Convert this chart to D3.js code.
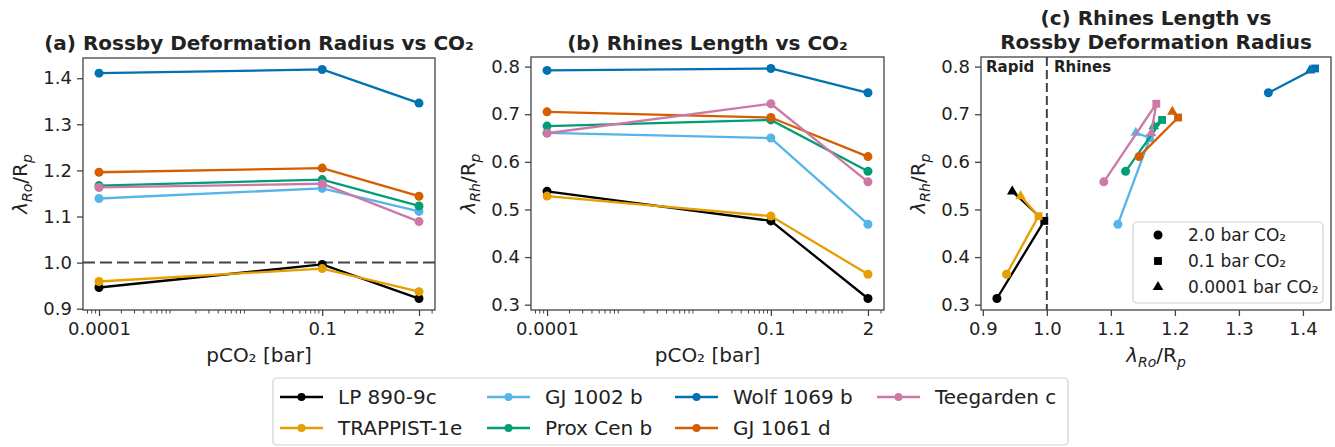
<!DOCTYPE html>
<html>
<head>
<meta charset="utf-8">
<script src="https://cdn.jsdelivr.net/npm/d3@7"></script>
<style>
  body { margin: 0; background: #fff; }
  text { font-family: "DejaVu Sans", sans-serif; fill: #222; }
</style>
</head>
<body>
<script>
// planets in plot order
var planets = ["LP 890-9c", "TRAPPIST-1e", "GJ 1002 b", "Prox Cen b", "Wolf 1069 b", "GJ 1061 d", "Teegarden c"];
var colors = ["#000000", "#E69F00", "#56B4E9", "#009E73", "#0072B2", "#D55E00", "#CC79A7"];
var pco2 = [0.0001, 0.1, 2];
var pco2Labels = ["0.0001", "0.1", "2"];

// lambda_Ro / R_p at 0.0001, 0.1, 2 bar
var rossby = [
  [0.946, 0.996, 0.922],
  [0.959, 0.987, 0.937],
  [1.139, 1.161, 1.111],
  [1.167, 1.180, 1.123],
  [1.411, 1.419, 1.346],
  [1.196, 1.205, 1.144],
  [1.163, 1.171, 1.089]
];
// lambda_Rh / R_p at 0.0001, 0.1, 2 bar
var rhines = [
  [0.538, 0.476, 0.313],
  [0.528, 0.486, 0.364],
  [0.661, 0.650, 0.469],
  [0.675, 0.688, 0.580],
  [0.792, 0.796, 0.745],
  [0.705, 0.693, 0.611],
  [0.660, 0.722, 0.558]
];
var rossbyTicks = [0.9, 1.0, 1.1, 1.2, 1.3, 1.4];
var rhinesTicks = [0.3, 0.4, 0.5, 0.6, 0.7, 0.8];
var markerLegend = ["2.0 bar CO\u2082", "0.1 bar CO\u2082", "0.0001 bar CO\u2082"];

var svg = d3.select("body").append("svg")
  .attr("width", 1335)
  .attr("height", 447);

var boxA = {x0: 83, x1: 435, y0: 58, y1: 310};
var boxB = {x0: 531, x1: 884, y0: 57, y1: 310};
var boxC = {x0: 981, x1: 1331, y0: 57, y1: 310};

// matplotlib-like 5% margins
function padded(vals) {
  var e = d3.extent(vals);
  var m = (e[1] - e[0]) * 0.05;
  return [e[0] - m, e[1] + m];
}
function paddedLog(vals) {
  var e = d3.extent(vals).map(Math.log10);
  var m = (e[1] - e[0]) * 0.05;
  return [Math.pow(10, e[0] - m), Math.pow(10, e[1] + m)];
}

var allRo = d3.merge(rossby), allRh = d3.merge(rhines);

var markerTypes = [d3.symbolTriangle, d3.symbolSquare, d3.symbolCircle]; // by pco2 index
var markerSizes = [48, 62, 64];

function frame(g, box) {
  g.append("rect")
    .attr("x", box.x0).attr("y", box.y0)
    .attr("width", box.x1 - box.x0).attr("height", box.y1 - box.y0)
    .attr("fill", "none").attr("stroke", "#444").attr("stroke-width", 1.3);
}

function styleAxis(ax) {
  ax.select(".domain").remove();
  ax.selectAll(".tick line").attr("stroke", "#444").attr("stroke-width", 1.3);
  ax.selectAll(".tick text").style("font-size", "18px").attr("fill", "#222");
}

function yLabel(g, x, y, sub) {
  var t = g.append("text")
    .attr("transform", "translate(" + x + "," + y + ") rotate(-90)")
    .attr("text-anchor", "middle")
    .style("font-size", "20px");
  t.append("tspan").style("font-style", "italic").text("\u03bb");
  t.append("tspan").attr("dy", 5).style("font-size", "14px").style("font-style", "italic").text(sub);
  t.append("tspan").attr("dy", -5).text("/R");
  t.append("tspan").attr("dy", 5).style("font-size", "14px").style("font-style", "italic").text("p");
}

function xLabelLambda(g, x, y) {
  var t = g.append("text")
    .attr("x", x).attr("y", y)
    .attr("text-anchor", "middle")
    .style("font-size", "20px");
  t.append("tspan").style("font-style", "italic").text("\u03bb");
  t.append("tspan").attr("dy", 5).style("font-size", "14px").style("font-style", "italic").text("Ro");
  t.append("tspan").attr("dy", -5).text("/R");
  t.append("tspan").attr("dy", 5).style("font-size", "14px").style("font-style", "italic").text("p");
}

function title(g, box, lines, y) {
  lines.forEach(function(s, i) {
    g.append("text")
      .attr("x", (box.x0 + box.x1) / 2)
      .attr("y", y + i * 24)
      .attr("text-anchor", "middle")
      .style("font-size", "20px")
      .style("font-weight", "bold")
      .text(s);
  });
}

// panels a and b share the same layout: value vs pCO2 on log axis
function co2Panel(box, values, yTicks, titleText, sub) {
  var g = svg.append("g");
  var x = d3.scaleLog().domain(paddedLog(pco2)).range([box.x0, box.x1]);
  var y = d3.scaleLinear().domain(padded(d3.merge(values))).range([box.y1, box.y0]);

  // minor log ticks
  var minors = [];
  for (var k = -5; k <= 1; k++) {
    for (var m = 2; m <= 9; m++) {
      var v = m * Math.pow(10, k);
      if (v >= x.domain()[0] && v <= x.domain()[1] && pco2.indexOf(+v.toPrecision(6)) < 0) minors.push(v);
    }
  }
  g.selectAll(".minor").data(minors).enter().append("line")
    .attr("x1", function(d) { return x(d); })
    .attr("x2", function(d) { return x(d); })
    .attr("y1", box.y1).attr("y2", box.y1 + 3.5)
    .attr("stroke", "#444").attr("stroke-width", 1);

  var xa = g.append("g").attr("transform", "translate(0," + box.y1 + ")")
    .call(d3.axisBottom(x).tickValues(pco2).tickSize(6).tickPadding(6)
      .tickFormat(function(d, i) { return pco2Labels[i]; }));
  styleAxis(xa);
  var ya = g.append("g").attr("transform", "translate(" + box.x0 + ",0)")
    .call(d3.axisLeft(y).tickValues(yTicks).tickSize(6).tickPadding(5).tickFormat(d3.format(".1f")));
  styleAxis(ya);

  var line = d3.line()
    .x(function(d, i) { return x(pco2[i]); })
    .y(function(d) { return y(d); });

  var series = g.selectAll(".series").data(values).enter().append("g");
  series.append("path")
    .attr("d", line)
    .attr("fill", "none")
    .attr("stroke", function(d, i) { return colors[i]; })
    .attr("stroke-width", 2.3);
  series.each(function(vals, si) {
    d3.select(this).selectAll("circle").data(vals).enter().append("circle")
      .attr("cx", function(d, i) { return x(pco2[i]); })
      .attr("cy", function(d) { return y(d); })
      .attr("r", 4.5)
      .attr("fill", colors[si]);
  });

  frame(g, box);
  title(g, box, [titleText], 50);
  g.append("text")
    .attr("x", (box.x0 + box.x1) / 2).attr("y", 362)
    .attr("text-anchor", "middle").style("font-size", "20px")
    .text("pCO\u2082 [bar]");
  yLabel(g, box.x0 - 56, (box.y0 + box.y1) / 2, sub);
  return {g: g, x: x, y: y};
}

var pa = co2Panel(boxA, rossby, rossbyTicks, "(a) Rossby Deformation Radius vs CO\u2082", "Ro");
// dashed reference at 1.0
pa.g.insert("line", "g")
  .attr("x1", boxA.x0).attr("x2", boxA.x1)
  .attr("y1", pa.y(1.0)).attr("y2", pa.y(1.0))
  .attr("stroke", "#444").attr("stroke-width", 2).attr("stroke-dasharray", "12,5");

co2Panel(boxB, rhines, rhinesTicks, "(b) Rhines Length vs CO\u2082", "Rh");

// panel c: rhines vs rossby
(function() {
  var box = boxC;
  var g = svg.append("g");
  var x = d3.scaleLinear().domain(padded(allRo)).range([box.x0, box.x1]);
  var y = d3.scaleLinear().domain(padded(allRh)).range([box.y1, box.y0]);

  var xa = g.append("g").attr("transform", "translate(0," + box.y1 + ")")
    .call(d3.axisBottom(x).tickValues(rossbyTicks).tickSize(6).tickPadding(6).tickFormat(d3.format(".1f")));
  styleAxis(xa);
  var ya = g.append("g").attr("transform", "translate(" + box.x0 + ",0)")
    .call(d3.axisLeft(y).tickValues(rhinesTicks).tickSize(6).tickPadding(5).tickFormat(d3.format(".1f")));
  styleAxis(ya);

  g.append("line")
    .attr("x1", x(1.0)).attr("x2", x(1.0))
    .attr("y1", box.y0).attr("y2", box.y1)
    .attr("stroke", "#444").attr("stroke-width", 2).attr("stroke-dasharray", "9,4");

  planets.forEach(function(p, si) {
    var pts = rossby[si].map(function(r, i) { return [r, rhines[si][i]]; });
    g.append("path")
      .attr("d", d3.line().x(function(d) { return x(d[0]); }).y(function(d) { return y(d[1]); })(pts))
      .attr("fill", "none").attr("stroke", colors[si]).attr("stroke-width", 2.3);
    pts.forEach(function(d, i) {
      g.append("path")
        .attr("transform", "translate(" + x(d[0]) + "," + y(d[1]) + ")")
        .attr("d", d3.symbol().type(markerTypes[i]).size(markerSizes[i]))
        .attr("fill", colors[si]);
    });
  });

  frame(g, box);
  title(g, box, ["(c) Rhines Length vs", "Rossby Deformation Radius"], 25);
  g.append("text").attr("x", 986).attr("y", 72).style("font-size", "15px").style("font-weight", "bold").text("Rapid");
  g.append("text").attr("x", 1054).attr("y", 72).style("font-size", "15px").style("font-weight", "bold").text("Rhines");
  xLabelLambda(g, (box.x0 + box.x1) / 2, 362);
  yLabel(g, box.x0 - 56, (box.y0 + box.y1) / 2, "Rh");

  // marker legend
  var lg = g.append("g");
  lg.append("rect").attr("x", 1133).attr("y", 222).attr("width", 190).attr("height", 81)
    .attr("rx", 4).attr("fill", "#fff").attr("fill-opacity", 0.85)
    .attr("stroke", "#d0d0d0").attr("stroke-width", 1.2);
  [2, 1, 0].forEach(function(mi, row) {
    var yy = 235 + row * 26;
    lg.append("path")
      .attr("transform", "translate(1158," + yy + ")")
      .attr("d", d3.symbol().type(markerTypes[mi]).size(markerSizes[mi]))
      .attr("fill", "#000");
    lg.append("text").attr("x", 1188).attr("y", yy).attr("dy", "0.35em")
      .style("font-size", "17px").text(markerLegend[row]);
  });
})();

// shared legend at bottom, 4 columns, filled column-wise
var leg = svg.append("g");
leg.append("rect").attr("x", 273).attr("y", 378).attr("width", 795).attr("height", 67)
  .attr("rx", 4).attr("fill", "#fff").attr("stroke", "#d0d0d0").attr("stroke-width", 1.2);
var colX = [280, 487, 675, 877];
var rowY = [397, 428];
planets.forEach(function(p, i) {
  var cx = colX[Math.floor(i / 2)], cy = rowY[i % 2];
  leg.append("line").attr("x1", cx).attr("x2", cx + 43).attr("y1", cy).attr("y2", cy)
    .attr("stroke", colors[i]).attr("stroke-width", 2.3);
  leg.append("circle").attr("cx", cx + 21.5).attr("cy", cy).attr("r", 4).attr("fill", colors[i]);
  leg.append("text").attr("x", cx + 58).attr("y", cy).attr("dy", "0.35em")
    .style("font-size", "20px").text(p);
});
</script>
</body>
</html>
